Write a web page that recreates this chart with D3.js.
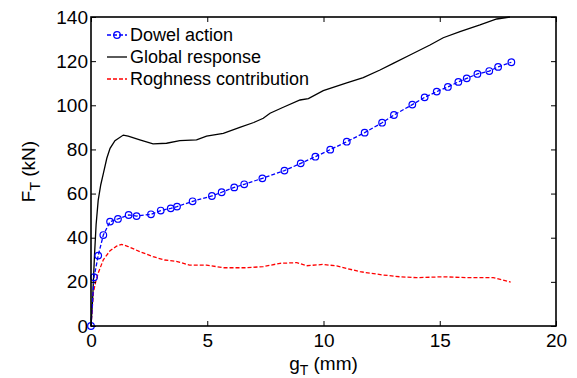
<!DOCTYPE html>
<html>
<head>
<meta charset="utf-8">
<script src="https://cdn.jsdelivr.net/npm/d3@7"></script>
<style>
  body { margin: 0; background: #fff; }
  text { font-family: "Liberation Sans", Arial, sans-serif; }
</style>
</head>
<body>
<script>
// dowel action (blue, markers)
var dowelX = [0, 0.13, 0.31, 0.53, 0.82, 1.16, 1.62, 1.96, 2.58, 3.0, 3.43, 3.7, 4.37, 5.2, 5.62, 6.16, 6.59, 7.37, 8.32, 9.02, 9.65, 10.29, 11.0, 11.77, 12.52, 13.03, 13.82, 14.35, 14.87, 15.35, 15.8, 16.16, 16.62, 17.13, 17.51, 18.08];
var dowelY = [0, 22.1, 31.9, 41.2, 47.3, 48.5, 50.3, 49.8, 50.6, 52.3, 53.3, 54.1, 56.5, 58.9, 60.6, 62.8, 64.2, 66.9, 70.4, 73.7, 76.7, 79.9, 83.5, 87.6, 92.1, 95.6, 100.3, 103.6, 106.2, 108.3, 110.6, 112.2, 114.2, 115.5, 117.4, 119.5];

// global response (black)
var globalX = [0, 0.07, 0.15, 0.22, 0.31, 0.42, 0.53, 0.68, 0.82, 1.03, 1.39, 1.6, 2.1, 2.67, 3.25, 3.82, 4.54, 4.97, 5.69, 6.4, 7.0, 7.41, 7.7, 8.27, 8.99, 9.35, 9.99, 11.0, 11.71, 12.43, 13.0, 13.72, 14.58, 15.15, 15.87, 16.73, 17.45, 18.02];
var globalY = [0, 12, 32, 46, 57, 64, 69, 76, 80.5, 84, 86.5, 86, 84.3, 82.5, 82.8, 84, 84.3, 86, 87.3, 90, 92.2, 94.1, 96.4, 99.1, 102.4, 103, 106.6, 110.2, 112.5, 116, 119, 122.8, 127.3, 130.6, 133.4, 136.4, 139.1, 140];

// roughness contribution (red dashed)
var roughX = [0, 0.1, 0.2, 0.31, 0.53, 0.82, 1.1, 1.32, 1.6, 2.1, 2.67, 3.17, 3.67, 4.24, 4.97, 5.69, 6.69, 7.4, 8.13, 8.85, 9.27, 9.99, 10.57, 11.57, 12.57, 13.29, 14.0, 15.15, 16.16, 17.3, 18.05];
var roughY = [0, 15, 20, 24, 30, 34.1, 36.2, 37, 36, 33.7, 31.4, 29.9, 29.3, 27.6, 27.6, 26.4, 26.4, 26.9, 28.4, 28.7, 27.3, 27.9, 27.2, 24.6, 23.1, 22.3, 21.9, 22.3, 21.9, 21.9, 19.9];

var xTicks = [0, 5, 10, 15, 20];
var yTicks = [0, 20, 40, 60, 80, 100, 120, 140];
var legendNames = ["Dowel action", "Global response", "Roghness contribution"];

var W = 577, H = 378;
var m = {left: 91, right: 21, top: 17, bottom: 52};

var svg = d3.select("body").append("svg")
    .attr("width", W)
    .attr("height", H);

var x = d3.scaleLinear().domain([0, 20]).range([m.left, W - m.right]);
var y = d3.scaleLinear().domain([0, 140]).range([H - m.bottom, m.top]);

function pts(xs, ys) { return xs.map(function(v, i) { return [v, ys[i]]; }); }
var line = d3.line().x(function(d) { return x(d[0]); }).y(function(d) { return y(d[1]); });

var plot = svg.append("g");

// global response
plot.append("path").datum(pts(globalX, globalY))
    .attr("d", line).attr("fill", "none")
    .attr("stroke", "#000").attr("stroke-width", 1.3);

// roughness
plot.append("path").datum(pts(roughX, roughY))
    .attr("d", line).attr("fill", "none")
    .attr("stroke", "#ff0000").attr("stroke-width", 1.3)
    .attr("stroke-dasharray", "4,2");

// dowel
plot.append("path").datum(pts(dowelX, dowelY))
    .attr("d", line).attr("fill", "none")
    .attr("stroke", "#0000ff").attr("stroke-width", 1.3)
    .attr("stroke-dasharray", "4,2");
plot.selectAll("circle.dw").data(pts(dowelX, dowelY)).enter()
    .append("circle").attr("class", "dw")
    .attr("cx", function(d) { return x(d[0]); })
    .attr("cy", function(d) { return y(d[1]); })
    .attr("r", 3.3)
    .attr("fill", "none")
    .attr("stroke", "#0000ff").attr("stroke-width", 1.2);

// axes, ticks inward on all sides
var tl = 5;
svg.append("g").attr("transform", "translate(0," + y(0) + ")")
    .call(d3.axisBottom(x).tickValues(xTicks).tickSizeInner(-tl).tickSizeOuter(0).tickPadding(8))
    .call(function(g) { g.select(".domain").remove(); });
svg.append("g").attr("transform", "translate(0," + y(140) + ")")
    .call(d3.axisTop(x).tickValues(xTicks).tickSizeInner(-tl).tickSizeOuter(0).tickFormat(""))
    .call(function(g) { g.select(".domain").remove(); });
svg.append("g").attr("transform", "translate(" + x(0) + ",0)")
    .call(d3.axisLeft(y).tickValues(yTicks).tickSizeInner(-tl).tickSizeOuter(0).tickPadding(3))
    .call(function(g) { g.select(".domain").remove(); });
svg.append("g").attr("transform", "translate(" + x(20) + ",0)")
    .call(d3.axisRight(y).tickValues(yTicks).tickSizeInner(-tl).tickSizeOuter(0).tickFormat(""))
    .call(function(g) { g.select(".domain").remove(); });

svg.selectAll(".tick line").attr("stroke", "#000").attr("stroke-width", 1);
svg.selectAll(".tick text").attr("font-size", 19).attr("fill", "#000")
    .style("font-family", "'Liberation Sans', Arial, sans-serif");

// box
svg.append("rect")
    .attr("x", x(0)).attr("y", y(140))
    .attr("width", x(20) - x(0)).attr("height", y(0) - y(140))
    .attr("fill", "none").attr("stroke", "#000").attr("stroke-width", 1.6);

// axis labels
var xl = svg.append("text")
    .attr("x", x(10)).attr("y", 370)
    .attr("text-anchor", "middle").attr("font-size", 19);
xl.append("tspan").text("g");
xl.append("tspan").attr("font-size", 14).attr("dy", 5).text("T");
xl.append("tspan").attr("dy", -5).text(" (mm)");

var yl = svg.append("text")
    .attr("transform", "translate(35," + y(70) + ") rotate(-90)")
    .attr("text-anchor", "middle").attr("font-size", 19);
yl.append("tspan").text("F");
yl.append("tspan").attr("font-size", 14).attr("dy", 5).text("T");
yl.append("tspan").attr("dy", -5).text(" (kN)");

// legend
var lg = svg.append("g").attr("transform", "translate(107,35)");
var rowH = 22;
legendNames.forEach(function(name, i) {
  var row = lg.append("g").attr("transform", "translate(0," + (i * rowH) + ")");
  var ln = row.append("line").attr("x1", 0).attr("x2", 20).attr("y1", 0).attr("y2", 0)
      .attr("stroke-width", 1.3);
  if (i === 0) {
    ln.attr("stroke", "#0000ff").attr("stroke-dasharray", "4,2");
    row.append("circle").attr("cx", 10).attr("cy", 0).attr("r", 3.3)
       .attr("fill", "none").attr("stroke", "#0000ff").attr("stroke-width", 1.2);
  } else if (i === 1) {
    ln.attr("stroke", "#000");
  } else {
    ln.attr("stroke", "#ff0000").attr("stroke-dasharray", "4,2");
  }
  row.append("text").attr("x", 23).attr("y", 6)
     .attr("font-size", 18).attr("fill", "#000").text(name);
});
</script>
</body>
</html>
